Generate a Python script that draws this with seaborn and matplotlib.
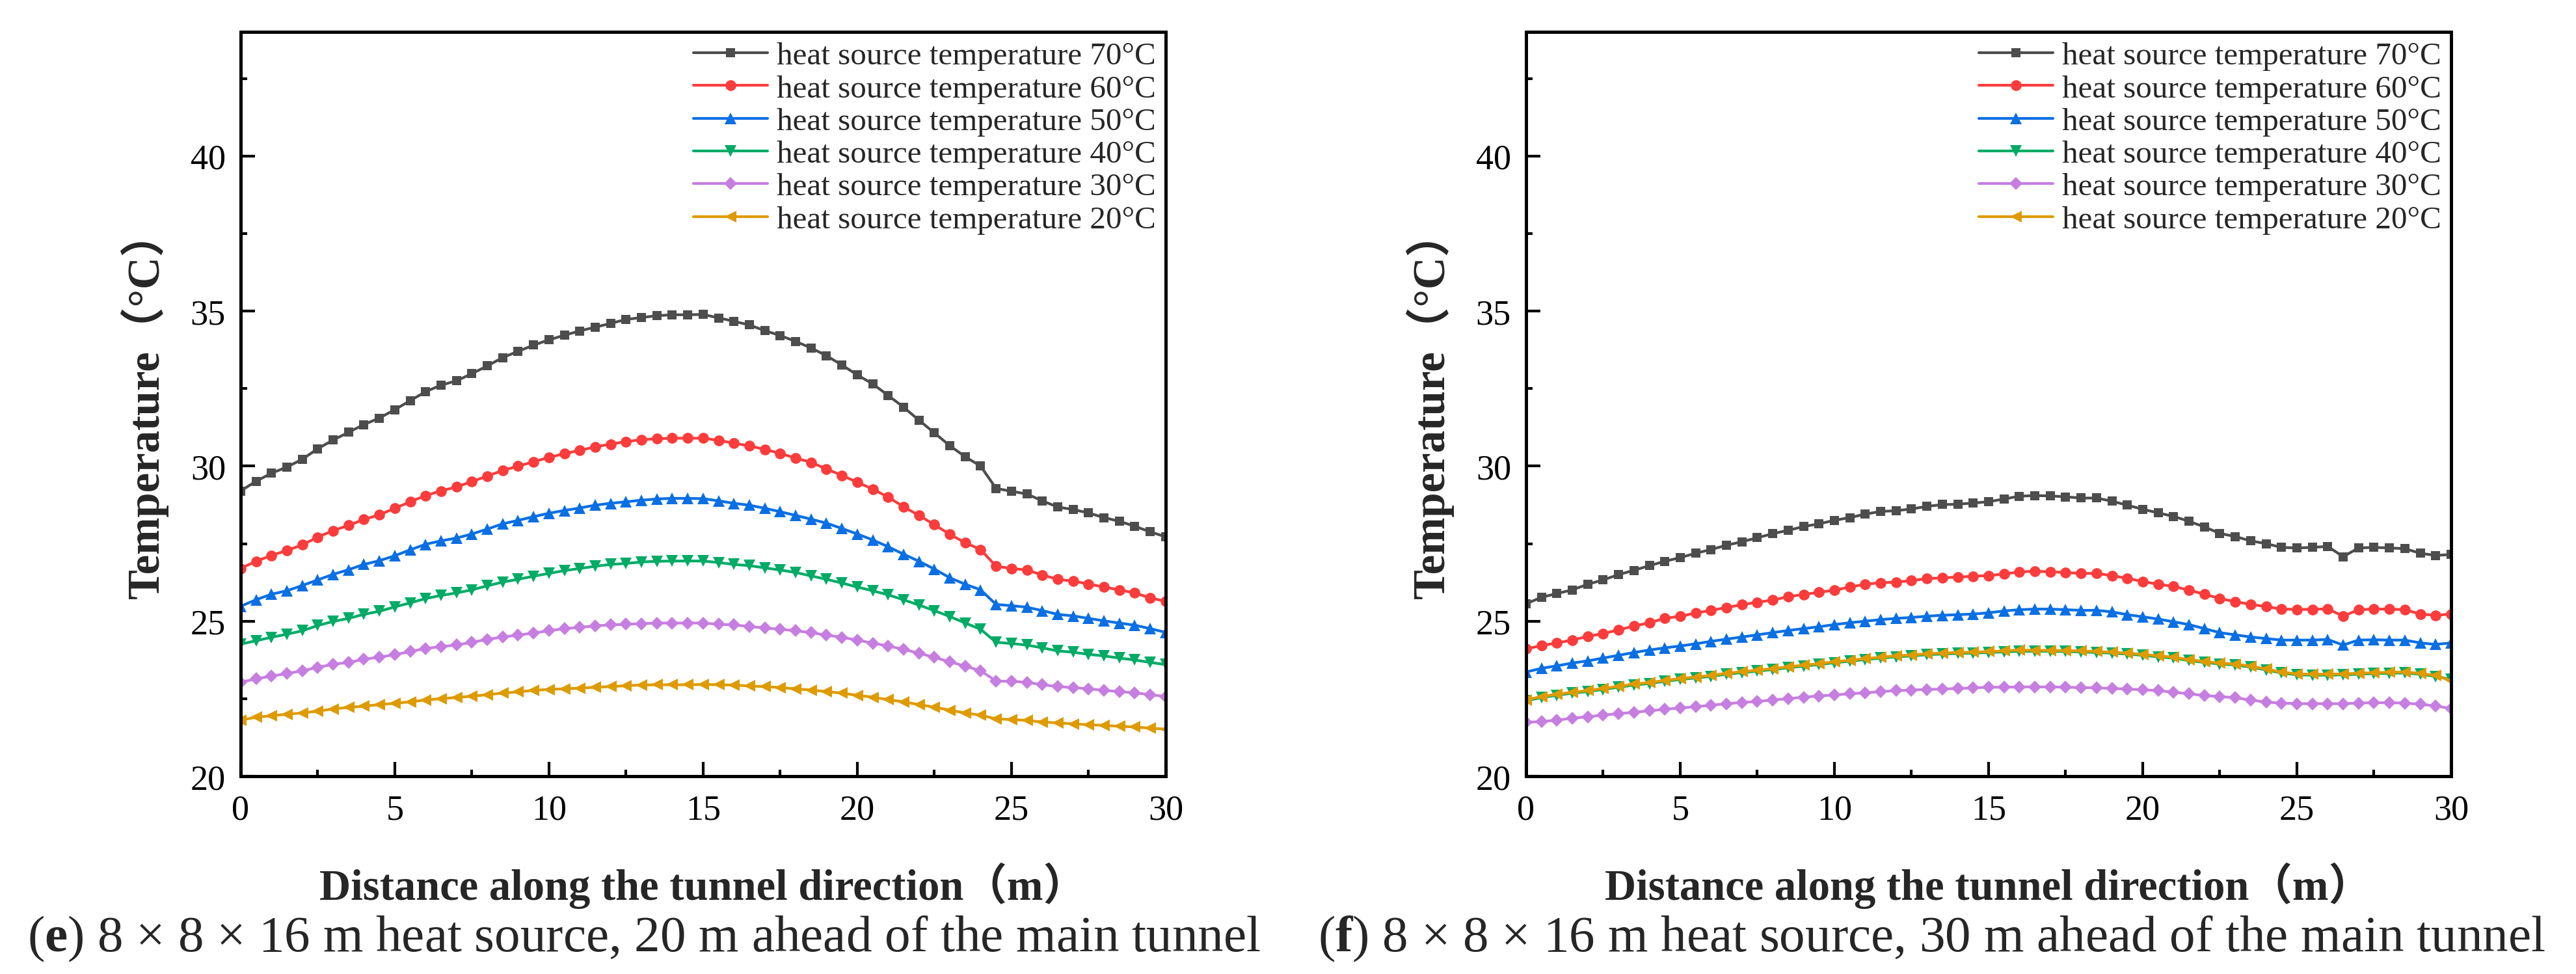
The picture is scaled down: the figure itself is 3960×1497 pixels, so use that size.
import matplotlib
matplotlib.use("Agg")
import matplotlib.pyplot as plt
from matplotlib.ticker import MultipleLocator
import seaborn as sns

# distance along the tunnel (m), one reading every 0.5 m
distance = [0, 0.5, 1, 1.5, 2, 2.5, 3, 3.5, 4, 4.5,
            5, 5.5, 6, 6.5, 7, 7.5, 8, 8.5, 9, 9.5,
            10, 10.5, 11, 11.5, 12, 12.5, 13, 13.5, 14, 14.5,
            15, 15.5, 16, 16.5, 17, 17.5, 18, 18.5, 19, 19.5,
            20, 20.5, 21, 21.5, 22, 22.5, 23, 23.5, 24, 24.5,
            25, 25.5, 26, 26.5, 27, 27.5, 28, 28.5, 29, 29.5, 30]

source_temps = [70, 60, 50, 40, 30, 20]
colors = ["#4d4d4d", "#fb3c3c", "#0a6fe3", "#00ab66", "#c67ee0", "#de9b00"]
markers = ["s", "o", "^", "v", "D", "<"]
marker_sizes = [3.5, 4.0, 4.4, 4.4, 3.4, 4.4]

# (e) heat source 20 m ahead of the main tunnel
e70 = [29.20, 29.51, 29.77, 29.97, 30.22, 30.56, 30.84, 31.09, 31.34, 31.55,
       31.82, 32.11, 32.40, 32.61, 32.75, 32.98, 33.23, 33.50, 33.70, 33.90,
       34.07, 34.22, 34.36, 34.48, 34.60, 34.73, 34.79, 34.85, 34.88, 34.88,
       34.89, 34.78, 34.67, 34.55, 34.37, 34.21, 34.02, 33.81, 33.56, 33.26,
       32.94, 32.65, 32.28, 31.90, 31.48, 31.07, 30.66, 30.30, 30.00, 29.28,
       29.19, 29.10, 28.88, 28.68, 28.60, 28.49, 28.34, 28.22, 28.06, 27.88, 27.72]
e60 = [26.70, 26.93, 27.12, 27.28, 27.46, 27.71, 27.92, 28.09, 28.28, 28.43,
       28.64, 28.85, 29.05, 29.20, 29.33, 29.50, 29.68, 29.86, 30.00, 30.14,
       30.28, 30.40, 30.51, 30.62, 30.71, 30.79, 30.85, 30.88, 30.90, 30.90,
       30.90, 30.83, 30.74, 30.65, 30.54, 30.41, 30.26, 30.12, 29.91, 29.70,
       29.48, 29.26, 29.00, 28.69, 28.41, 28.11, 27.80, 27.53, 27.31, 26.77,
       26.70, 26.65, 26.49, 26.35, 26.29, 26.20, 26.10, 26.01, 25.91, 25.75, 25.64]
e50 = [25.48, 25.69, 25.87, 25.98, 26.15, 26.33, 26.51, 26.66, 26.83, 26.95,
       27.11, 27.30, 27.48, 27.59, 27.68, 27.81, 27.97, 28.14, 28.25, 28.37,
       28.48, 28.57, 28.65, 28.74, 28.80, 28.85, 28.90, 28.94, 28.96, 28.96,
       28.95, 28.88, 28.80, 28.74, 28.64, 28.53, 28.41, 28.29, 28.16, 27.99,
       27.81, 27.62, 27.40, 27.16, 26.93, 26.68, 26.40, 26.19, 26.01, 25.54,
       25.50, 25.45, 25.34, 25.22, 25.17, 25.09, 25.01, 24.94, 24.87, 24.76, 24.64]
e40 = [24.26, 24.37, 24.48, 24.58, 24.69, 24.86, 24.99, 25.09, 25.22, 25.32,
       25.46, 25.59, 25.73, 25.83, 25.91, 26.01, 26.14, 26.26, 26.35, 26.45,
       26.54, 26.63, 26.70, 26.77, 26.83, 26.86, 26.91, 26.93, 26.94, 26.94,
       26.94, 26.89, 26.83, 26.79, 26.72, 26.65, 26.57, 26.46, 26.35, 26.23,
       26.10, 25.98, 25.85, 25.69, 25.52, 25.34, 25.15, 24.94, 24.74, 24.32,
       24.28, 24.23, 24.14, 24.04, 24.00, 23.93, 23.88, 23.81, 23.75, 23.67, 23.60]
e30 = [23.03, 23.14, 23.23, 23.31, 23.40, 23.51, 23.61, 23.67, 23.77, 23.84,
       23.92, 24.02, 24.12, 24.18, 24.23, 24.32, 24.41, 24.49, 24.55, 24.62,
       24.69, 24.76, 24.80, 24.85, 24.88, 24.90, 24.92, 24.94, 24.94, 24.94,
       24.94, 24.90, 24.88, 24.83, 24.78, 24.74, 24.69, 24.63, 24.55, 24.48,
       24.39, 24.29, 24.20, 24.09, 23.97, 23.83, 23.69, 23.55, 23.40, 23.07,
       23.06, 23.03, 22.95, 22.89, 22.86, 22.82, 22.77, 22.73, 22.69, 22.63, 22.57]
e20 = [21.81, 21.90, 21.95, 22.00, 22.04, 22.10, 22.17, 22.22, 22.26, 22.31,
       22.35, 22.40, 22.46, 22.50, 22.54, 22.58, 22.63, 22.68, 22.72, 22.77,
       22.80, 22.82, 22.84, 22.87, 22.89, 22.92, 22.94, 22.95, 22.95, 22.95,
       22.96, 22.95, 22.94, 22.91, 22.89, 22.86, 22.82, 22.78, 22.73, 22.68,
       22.61, 22.55, 22.47, 22.40, 22.31, 22.23, 22.13, 22.04, 21.97, 21.85,
       21.83, 21.80, 21.75, 21.72, 21.69, 21.66, 21.64, 21.61, 21.59, 21.55, 21.52]

# (f) heat source 30 m ahead of the main tunnel
f70 = [25.56, 25.77, 25.89, 26.01, 26.19, 26.33, 26.50, 26.64, 26.79, 26.93,
       27.05, 27.19, 27.31, 27.45, 27.56, 27.69, 27.82, 27.93, 28.05, 28.14,
       28.25, 28.34, 28.45, 28.54, 28.56, 28.62, 28.70, 28.76, 28.77, 28.81,
       28.85, 28.94, 29.03, 29.05, 29.04, 29.01, 28.97, 28.97, 28.87, 28.74,
       28.61, 28.49, 28.38, 28.22, 28.04, 27.83, 27.73, 27.59, 27.50, 27.38,
       27.36, 27.38, 27.41, 27.08, 27.36, 27.38, 27.36, 27.34, 27.19, 27.12, 27.15]
f60 = [24.11, 24.21, 24.30, 24.39, 24.51, 24.60, 24.72, 24.84, 24.95, 25.09,
       25.16, 25.26, 25.35, 25.44, 25.53, 25.61, 25.68, 25.79, 25.86, 25.93,
       26.00, 26.10, 26.19, 26.24, 26.26, 26.31, 26.37, 26.40, 26.42, 26.45,
       26.47, 26.52, 26.59, 26.61, 26.59, 26.57, 26.54, 26.54, 26.47, 26.38,
       26.28, 26.19, 26.12, 26.00, 25.87, 25.73, 25.63, 25.54, 25.47, 25.39,
       25.38, 25.38, 25.40, 25.16, 25.37, 25.39, 25.39, 25.37, 25.23, 25.19, 25.23]
f50 = [23.36, 23.48, 23.56, 23.65, 23.72, 23.81, 23.90, 23.99, 24.07, 24.14,
       24.20, 24.27, 24.35, 24.42, 24.49, 24.56, 24.63, 24.70, 24.76, 24.82,
       24.89, 24.95, 25.00, 25.05, 25.09, 25.12, 25.16, 25.19, 25.21, 25.23,
       25.27, 25.33, 25.37, 25.39, 25.39, 25.37, 25.35, 25.35, 25.30, 25.21,
       25.14, 25.07, 24.98, 24.89, 24.76, 24.63, 24.56, 24.49, 24.44, 24.39,
       24.39, 24.39, 24.41, 24.23, 24.39, 24.40, 24.39, 24.39, 24.30, 24.25, 24.30]
f40 = [22.43, 22.54, 22.61, 22.68, 22.73, 22.80, 22.87, 22.94, 22.99, 23.06,
       23.12, 23.17, 23.22, 23.29, 23.34, 23.39, 23.44, 23.50, 23.55, 23.60,
       23.66, 23.71, 23.76, 23.81, 23.85, 23.88, 23.92, 23.94, 23.96, 23.97,
       23.99, 24.01, 24.03, 24.03, 24.03, 24.02, 24.01, 23.99, 23.97, 23.94,
       23.90, 23.85, 23.81, 23.73, 23.67, 23.62, 23.59, 23.52, 23.43, 23.33,
       23.27, 23.26, 23.26, 23.27, 23.29, 23.31, 23.32, 23.33, 23.29, 23.22, 23.12]
f30 = [21.74, 21.76, 21.81, 21.87, 21.92, 21.97, 22.02, 22.06, 22.11, 22.16,
       22.20, 22.24, 22.29, 22.34, 22.38, 22.41, 22.46, 22.50, 22.55, 22.59,
       22.62, 22.66, 22.69, 22.73, 22.76, 22.78, 22.80, 22.81, 22.83, 22.85,
       22.87, 22.87, 22.88, 22.88, 22.88, 22.87, 22.86, 22.85, 22.83, 22.81,
       22.79, 22.76, 22.71, 22.66, 22.60, 22.57, 22.53, 22.46, 22.39, 22.36,
       22.34, 22.34, 22.34, 22.34, 22.36, 22.37, 22.37, 22.36, 22.32, 22.27, 22.18]
f20 = [22.46, 22.57, 22.64, 22.71, 22.76, 22.83, 22.90, 22.97, 23.02, 23.09,
       23.15, 23.20, 23.25, 23.32, 23.37, 23.42, 23.47, 23.53, 23.58, 23.63,
       23.69, 23.74, 23.79, 23.84, 23.88, 23.91, 23.95, 23.97, 23.99, 24.00,
       24.02, 24.04, 24.07, 24.06, 24.06, 24.05, 24.04, 24.02, 24.00, 23.97,
       23.93, 23.88, 23.84, 23.76, 23.70, 23.65, 23.62, 23.55, 23.46, 23.36,
       23.30, 23.29, 23.29, 23.30, 23.32, 23.34, 23.35, 23.36, 23.32, 23.25, 23.08]

captions = [r"($\mathbf{e}$) 8 × 8 × 16 m heat source, 20 m ahead of the main tunnel",
            r"($\mathbf{f}$) 8 × 8 × 16 m heat source, 30 m ahead of the main tunnel"]

sns.set_theme(style="white")
plt.rcParams["font.family"] = ["Liberation Serif", "Noto Sans CJK SC"]
plt.rcParams["mathtext.fontset"] = "custom"
plt.rcParams["mathtext.rm"] = "Liberation Serif"
plt.rcParams["mathtext.bf"] = "Liberation Serif:bold"

fig = plt.figure(figsize=(13.2, 4.9933), dpi=300)
ax_e = fig.add_axes([0.0934, 0.2029, 0.3591, 0.7637])
ax_f = fig.add_axes([0.5924, 0.2029, 0.3591, 0.7637])


def draw_panel(ax, series):
    for temp, vals, c, m, ms in zip(source_temps, series, colors, markers, marker_sizes):
        sns.lineplot(x=distance, y=vals, ax=ax, color=c, marker=m, markersize=ms,
                     markeredgewidth=0, linewidth=1.0,
                     label=f"heat source temperature {temp}°C")
    ax.set_xlim(0, 30)
    ax.set_ylim(20, 44)
    ax.set_xticks([0, 5, 10, 15, 20, 25, 30])
    ax.set_yticks([20, 25, 30, 35, 40])
    ax.xaxis.set_minor_locator(MultipleLocator(2.5))
    ax.yaxis.set_minor_locator(MultipleLocator(2.5))
    ax.tick_params(which="both", direction="in", top=False, right=False,
                   bottom=True, left=True, colors="black", width=1.0,
                   labelsize=13)
    ax.tick_params(which="major", length=5.3)
    ax.tick_params(which="minor", length=2.4)
    ax.tick_params(axis="x", pad=6.5)
    ax.tick_params(axis="y", pad=5.5)
    for sp in ax.spines.values():
        sp.set_linewidth(1.2)
        sp.set_color("black")
    ax.set_xlabel("Distance along the tunnel direction（m）", fontsize=16,
                  fontweight="bold", labelpad=13)
    ax.set_ylabel("Temperature（°C）", fontsize=16.5, fontweight="bold", labelpad=8)
    ax.legend(loc="upper right", frameon=False, fontsize=11.8, handlelength=2.3,
              handletextpad=0.3, labelspacing=0.12, borderaxespad=0.2, borderpad=0.1)


draw_panel(ax_e, [e70, e60, e50, e40, e30, e20])
draw_panel(ax_f, [f70, f60, f50, f40, f30, f20])

fig.text(0.25, 0.0367, captions[0], ha="center", va="center", fontsize=19)
fig.text(0.75, 0.0367, captions[1], ha="center", va="center", fontsize=19)

fig.savefig("out.png", dpi=300)
